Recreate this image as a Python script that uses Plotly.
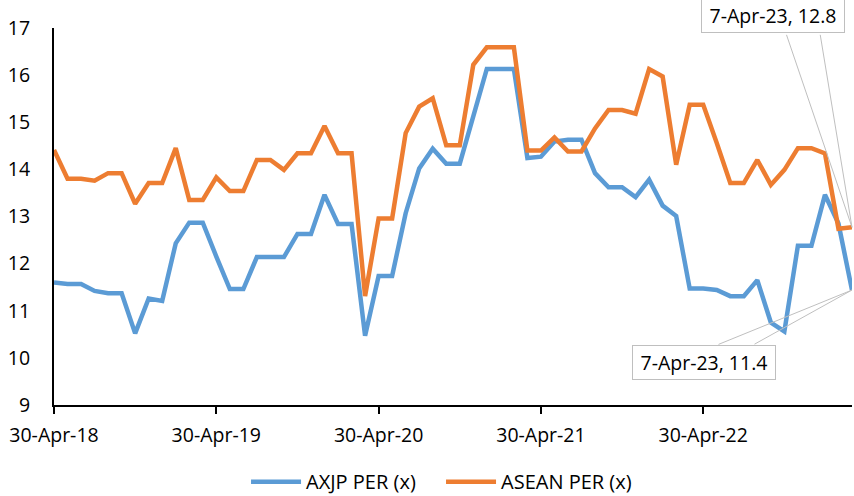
import pandas as pd
import plotly.graph_objects as go

# Category labels: month-ends Apr-18 .. Feb-23, then latest 7-Apr-23
month_ends = pd.date_range("2018-04-30", "2023-02-28", freq="ME")
dates = [f"{d.day}-{d.strftime('%b')}-{d.strftime('%y')}" for d in month_ends] + ["7-Apr-23"]

axjp = [11.60, 11.57, 11.57, 11.42, 11.37, 11.37, 10.52, 11.26, 11.21, 12.43,
        12.87, 12.87, 12.15, 11.46, 11.46, 12.14, 12.14, 12.14, 12.63, 12.63,
        13.46, 12.84, 12.84, 10.47, 11.74, 11.74, 13.07, 14.02, 14.44, 14.12,
        14.12, 15.10, 16.13, 16.13, 16.13, 14.24, 14.27, 14.59, 14.63, 14.63,
        13.92, 13.62, 13.62, 13.41, 13.78, 13.23, 13.01, 11.47, 11.47, 11.44,
        11.31, 11.31, 11.65, 10.75, 10.56, 12.38, 12.38, 13.46, 12.85, 11.44]

asean = [14.41, 13.80, 13.80, 13.76, 13.92, 13.92, 13.27, 13.71, 13.71, 14.45,
         13.35, 13.35, 13.83, 13.54, 13.54, 14.20, 14.20, 13.99, 14.34, 14.34,
         14.92, 14.34, 14.34, 11.31, 12.96, 12.96, 14.77, 15.33, 15.51, 14.51,
         14.51, 16.22, 16.59, 16.59, 16.59, 14.40, 14.40, 14.68, 14.38, 14.38,
         14.87, 15.26, 15.26, 15.18, 16.13, 15.97, 14.10, 15.37, 15.37, 14.56,
         13.71, 13.71, 14.20, 13.67, 13.99, 14.45, 14.45, 14.34, 12.74, 12.77]

series_names = ["AXJP PER (x)", "ASEAN PER (x)"]
colors = ["#5B9BD5", "#ED7D31"]
tick_labels = dates[0:60:12]
y_ticks = list(range(9, 18))

FONT = "Open Sans, DejaVu Sans, sans-serif"
FS = 19.5

fig = go.Figure()
for name, vals, col in zip(series_names, [axjp, asean], colors):
    fig.add_trace(go.Scatter(x=dates, y=vals, mode="lines", name=name,
                             line=dict(color=col, width=4.5)))

# Data labels for the last points with Excel-style leader lines
def add_label(yval, text, box_off, leader_offs):
    for ax, ay in leader_offs:
        fig.add_annotation(x=dates[-1], y=yval, xref="x", yref="y", text="",
                           showarrow=True, arrowhead=0, arrowwidth=1,
                           arrowcolor="#BFBFBF", ax=ax, ay=ay,
                           standoff=0, startstandoff=0)
    fig.add_annotation(x=dates[-1], y=yval, xref="x", yref="y", text=text,
                       showarrow=True, arrowcolor="rgba(0,0,0,0)", arrowwidth=0.1,
                       ax=box_off[0], ay=box_off[1], width=134, height=25,
                       bgcolor="white", bordercolor="#BFBFBF", borderwidth=1,
                       borderpad=4, font=dict(family=FONT, size=FS, color="#000000"))

add_label(asean[-1], f"{dates[-1]}, {asean[-1]:.1f}", (-79, -212), [(-66, -194), (-32, -194)])
add_label(axjp[-1], f"{dates[-1]}, {axjp[-1]:.1f}", (-148, 72), [(-135, 55), (-99, 55)])

fig.update_layout(
    width=854, height=496,
    margin=dict(l=54, r=2, t=28, b=91, autoexpand=False),
    paper_bgcolor="white", plot_bgcolor="white",
    font=dict(family=FONT, size=FS, color="#000000"),
    showlegend=True,
    legend=dict(orientation="h", x=0.485, xanchor="center", y=-0.2034, yanchor="middle",
                font=dict(size=20), itemwidth=50, entrywidth=130,
                bgcolor="rgba(0,0,0,0)"),
    xaxis=dict(type="category", range=[0, len(dates) - 1], automargin=False,
               tickmode="array", tickvals=tick_labels, ticktext=tick_labels,
               showline=True, linecolor="black", linewidth=2,
               ticks="outside", ticklen=7, tickwidth=1.5, tickcolor="black",
               showgrid=False, zeroline=False, ticklabelstandoff=5,
               tickfont=dict(size=FS)),
    yaxis=dict(range=[9, 17], tickmode="array", tickvals=y_ticks, automargin=False,
               showline=True, linecolor="black", linewidth=2,
               ticks="", showgrid=False, zeroline=False,
               ticklabelstandoff=18, tickfont=dict(size=FS)),
)

# Remove the default page margin so the 854x496 figure fills the window exactly.
fig.write_html(
    "out.html",
    config={"displayModeBar": False},
    post_script="document.body.style.margin='0';"
                "document.documentElement.style.overflow='hidden';"
                "document.body.style.overflow='hidden';",
)
